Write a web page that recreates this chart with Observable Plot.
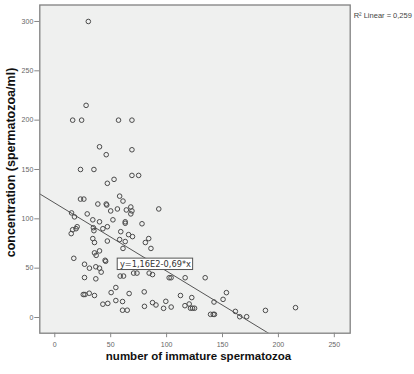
<!DOCTYPE html>
<html>
<head>
<meta charset="utf-8">
<script src="https://cdn.jsdelivr.net/npm/d3@7"></script>
<script src="https://cdn.jsdelivr.net/npm/@observablehq/plot@0.6"></script>
<style>
  html, body { margin: 0; padding: 0; background: #fff; }
</style>
</head>
<body>
<div id="chart"></div>
<script>
// number of immature spermatozoa (x) and concentration (spermatozoa/ml) (y)
const immature = [
  30, 28, 16, 24, 57, 69, 40, 46, 69, 23, 35, 69, 75, 47, 53,
  58, 61, 23, 26, 38.5, 46, 46.5, 50, 56, 64, 68, 69, 68, 93,
  15, 17.6, 29, 34, 40, 52, 63, 63, 78, 47, 43, 34.5, 35, 20, 19, 16, 14.7,
  59, 66, 69.5, 84, 34, 58, 63, 47, 35.5, 81, 86, 61, 40, 35.5, 37, 17, 45, 45.5,
  26.6, 31, 36.7, 40, 41.5, 58.5, 61.5, 70.5, 73.5, 84.4, 87.4, 102.3, 104, 116.6, 134.5, 26.6, 36.7,
  54.6, 50.4, 66.5, 80, 25.5, 27, 30.8, 35.5, 112.4, 122.5, 43, 47.4, 54.6, 60.6, 87.4, 90.5, 99.3, 80.2, 97.3, 104.1, 116.4, 120.2, 121.4, 123.2, 125, 60.6, 64.8,
  153.5, 150.5, 142.4, 139.3, 141.7, 142.8, 161.5, 165.4, 171.6, 188.4, 215.3
];
const concentration = [
  300, 215, 200, 200, 200, 200, 173, 165, 170, 150, 150, 144, 144, 136, 140,
  123, 118, 120, 120, 115, 115, 114, 108, 110, 109, 112, 108, 105, 110,
  106, 102, 105, 99, 97, 99, 97, 95.5, 95, 92, 90, 91, 88, 92, 90, 89, 85,
  87, 84, 82, 80, 80, 79, 77, 77.5, 76, 76, 70, 70, 67.5, 65.5, 63, 60, 58, 57,
  54, 50, 51.4, 50, 46, 42, 42, 45, 45, 45, 43.5, 40.3, 40.3, 40.3, 40.3, 40.5, 39.2,
  30.4, 25.3, 24.3, 26, 23.3, 23.3, 24.6, 22.3, 22.3, 20.2, 13.5, 14.3, 17.2, 16.2, 15.1, 12.7, 16.4, 11.3, 9.3, 10.6, 12, 13.7, 9.4, 9.4, 9.4, 7.4, 7.4,
  25.2, 18.4, 15.7, 3.2, 3.2, 3.2, 6.2, 0.8, 0.8, 7.2, 10
];
const xTicks = [0, 50, 100, 150, 200, 250];
const yTicks = [0, 50, 100, 150, 200, 250, 300];
const fitIntercept = 116;
const fitSlope = -0.69;
const fitLabelAtX = 90;
const fitEquation = "y=1,16E2-0,69*x";
const r2Text = "R\u00B2 Linear = 0,259";
const xTitle = "number of immature spermatozoa";
const yTitle = "concentration (spermatozoa/ml)";

const xDomain = [-13.4, 264.2];
const yDomain = [-15.9, 316.7];

const points = immature.map((x, i) => ({x, y: concentration[i]}));
const fitLine = xDomain.map(x => ({x, y: fitIntercept + fitSlope * x}));
const fitLabel = [{x: fitLabelAtX, y: fitIntercept + fitSlope * fitLabelAtX, text: fitEquation}];

const sans = "'Liberation Sans', Arial, Helvetica, sans-serif";

const chart = Plot.plot({
  width: 414,
  height: 374,
  marginLeft: 39.3,
  marginRight: 64.3,
  marginTop: 4.5,
  marginBottom: 41.3,
  style: {fontFamily: sans, fontSize: "7px", background: "#fff", overflow: "visible"},
  x: {domain: xDomain},
  y: {domain: yDomain},
  marks: [
    Plot.frame({fill: "#eff0ef"}),
    Plot.line(fitLine, {x: "x", y: "y", stroke: "#555", strokeWidth: 1, clip: true}),
    Plot.dot(points, {x: "x", y: "y", r: 2.3, stroke: "#4a4a4a", strokeWidth: 1, fill: "none"}),
    Plot.rect(fitLabel, {
      x1: "x", x2: "x", y1: "y", y2: "y",
      insetLeft: -37.7, insetRight: -37.7, insetTop: -5.7, insetBottom: -5.7,
      fill: "#fff", stroke: "#555", strokeWidth: 1
    }),
    Plot.text(fitLabel, {x: "x", y: "y", text: "text", fontSize: 8.25, fontFamily: "'DejaVu Sans', sans-serif", fill: "#333"}),
    Plot.frame({stroke: "#808080", strokeWidth: 1.3}),
    Plot.axisX(xTicks, {tickSize: 4.5, tickPadding: 4, stroke: "#888", fill: "#666", fontSize: 7, label: null}),
    Plot.axisY(yTicks, {tickSize: 5, tickPadding: 1.5, stroke: "#888", fill: "#666", fontSize: 7, label: null}),
    Plot.text([xTitle], {frameAnchor: "bottom", dx: 3.5, dy: 26.5, fontSize: 11.5, fontWeight: "bold", fill: "#111", fontFamily: sans}),
    Plot.text([yTitle], {frameAnchor: "left", textAnchor: "middle", rotate: -90, dx: -28.8, dy: -6.6, fontSize: 12.5, fontWeight: "bold", fill: "#111", fontFamily: sans}),
    Plot.text([r2Text], {frameAnchor: "top-right", textAnchor: "start", dx: 3.5, dy: 7.5, fontSize: 7.5, fill: "#444", fontFamily: sans})
  ]
});
document.getElementById("chart").append(chart);
</script>
</body>
</html>
